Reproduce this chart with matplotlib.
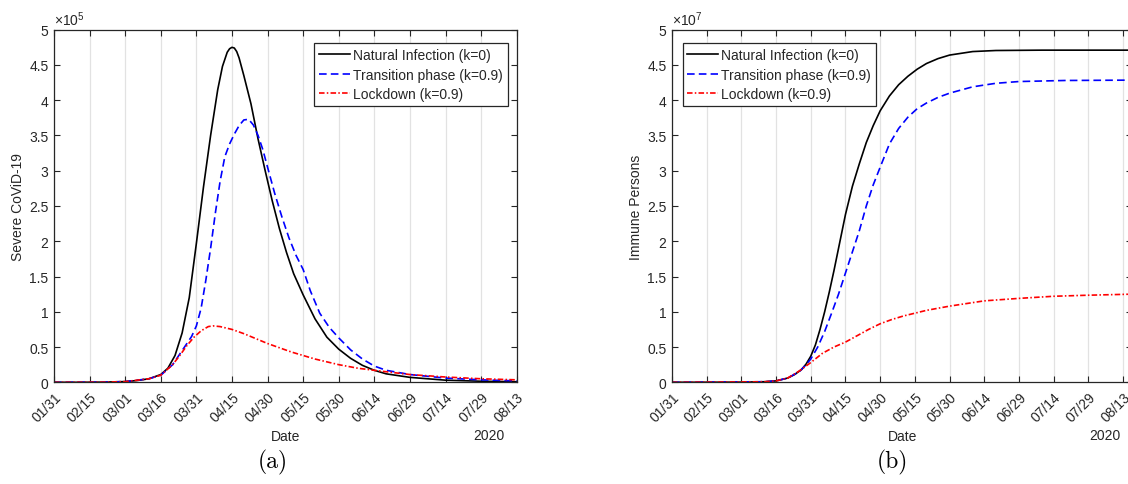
import numpy as np
import matplotlib
matplotlib.use("Agg")
import matplotlib.pyplot as plt

plt.rcParams['font.family'] = ['Liberation Sans', 'DejaVu Sans']
plt.rcParams['lines.scale_dashes'] = False
plt.rcParams['mathtext.fontset'] = 'custom'
plt.rcParams['mathtext.rm'] = 'Liberation Sans'
plt.rcParams['mathtext.it'] = 'Liberation Sans:italic'
plt.rcParams['mathtext.bf'] = 'Liberation Sans:bold'

# ---------------- data ----------------
tick_days = [0, 15, 30, 45, 60, 75, 90, 105, 120, 135, 150, 165, 180, 195]
tick_labels = ['01/31', '02/15', '03/01', '03/16', '03/31', '04/15', '04/30',
               '05/15', '05/30', '06/14', '06/29', '07/14', '07/29', '08/13']
ytick_vals = [0, 0.5, 1, 1.5, 2, 2.5, 3, 3.5, 4, 4.5, 5]

legend_labels = ['Natural Infection (k=0)', 'Transition phase (k=0.9)', 'Lockdown (k=0.9)']

# (a) Severe CoViD-19, units of 1e5
a_nat_days = [0, 10, 20, 30, 35, 40, 45, 48, 51, 54, 57, 60, 63, 66, 69, 71, 73, 74, 75, 76,
              77, 78, 80, 83, 86, 89, 92, 95, 98, 101, 105, 110, 115, 120, 125, 130, 135, 140,
              150, 165, 180, 195]
a_nat_vals = [0, 0, 0.002, 0.01, 0.025, 0.05, 0.11, 0.2, 0.38, 0.7, 1.2, 1.97, 2.77, 3.5,
              4.15, 4.48, 4.68, 4.73, 4.75, 4.74, 4.69, 4.6, 4.35, 3.95, 3.45, 3.0, 2.57, 2.18,
              1.84, 1.54, 1.24, 0.9, 0.64, 0.47, 0.34, 0.24, 0.17, 0.12, 0.07, 0.03, 0.015, 0.008]

a_tra_days = [0, 20, 30, 40, 45, 50, 55, 58, 60, 62, 64, 66, 68, 70, 72, 74, 76, 78, 80, 82,
              84, 86, 88, 90, 93, 96, 99, 102, 105, 108, 112, 116, 120, 125, 130, 135, 140,
              150, 165, 180, 195]
a_tra_vals = [0, 0.002, 0.01, 0.05, 0.1, 0.25, 0.5, 0.65, 0.8, 1.05, 1.45, 1.9, 2.4, 2.85,
              3.2, 3.38, 3.52, 3.64, 3.72, 3.73, 3.65, 3.5, 3.3, 3.05, 2.68, 2.35, 2.05, 1.8,
              1.6, 1.3, 0.98, 0.78, 0.63, 0.46, 0.33, 0.23, 0.17, 0.11, 0.06, 0.035, 0.02]

a_lock_days = [0, 20, 30, 40, 45, 50, 53, 56, 59, 62, 65, 67, 70, 75, 80, 85, 90, 95, 100,
               105, 110, 115, 120, 128, 135, 150, 165, 180, 195]
a_lock_vals = [0, 0.002, 0.01, 0.05, 0.1, 0.25, 0.38, 0.52, 0.64, 0.73, 0.79, 0.8, 0.79,
               0.75, 0.69, 0.62, 0.55, 0.49, 0.43, 0.38, 0.33, 0.29, 0.25, 0.2, 0.17, 0.11,
               0.075, 0.05, 0.035]

# (b) Immune persons, units of 1e7
b_nat_days = [0, 30, 40, 45, 50, 53, 56, 58, 60, 62, 64, 66, 68, 70, 72, 75, 78, 81, 84, 87,
              90, 94, 98, 102, 106, 110, 115, 120, 130, 140, 160, 199]
b_nat_vals = [0, 0.002, 0.008, 0.02, 0.06, 0.11, 0.18, 0.26, 0.37, 0.53, 0.75, 1.0, 1.28,
              1.58, 1.9, 2.38, 2.78, 3.1, 3.4, 3.64, 3.85, 4.06, 4.22, 4.34, 4.44, 4.52,
              4.59, 4.64, 4.69, 4.705, 4.71, 4.71]

b_tra_days = [0, 40, 45, 50, 55, 58, 60, 63, 66, 69, 72, 75, 78, 81, 84, 87, 90, 94, 98, 102,
              106, 110, 115, 120, 130, 140, 150, 170, 199]
b_tra_vals = [0, 0.008, 0.02, 0.06, 0.15, 0.25, 0.33, 0.5, 0.72, 0.98, 1.25, 1.55, 1.85,
              2.15, 2.5, 2.8, 3.05, 3.38, 3.6, 3.76, 3.88, 3.96, 4.04, 4.1, 4.19, 4.24, 4.265,
              4.28, 4.285]

b_lock_days = [0, 40, 45, 50, 55, 60, 65, 70, 75, 80, 85, 90, 95, 100, 105, 110, 120, 135,
               150, 165, 180, 199]
b_lock_vals = [0, 0.008, 0.02, 0.06, 0.16, 0.28, 0.41, 0.5, 0.57, 0.66, 0.75, 0.83, 0.89,
               0.94, 0.98, 1.02, 1.08, 1.155, 1.19, 1.22, 1.235, 1.25]

# ---------------- figure ----------------
W, H = 1128, 485
fig = plt.figure(figsize=(W / 100, H / 100), dpi=100)

ax_col = '#262626'
grid_col = '#e2e2e2'
fs = 10

def px_axes(l, r, t, b):
    return fig.add_axes([l / W, 1 - b / H, (r - l) / W, (b - t) / H])

ax1 = px_axes(54, 516.7, 30.7, 383.3)
ax2 = px_axes(672, 672 + 199 * 2.313, 30.7, 383.3)

def style(ax, xmax, ylab, expo):
    ax.set_xlim(0, xmax)
    ax.set_ylim(0, 5)
    ax.set_xticks(tick_days)
    ax.set_xticklabels(tick_labels, rotation=45, ha='right', va='top',
                       rotation_mode='anchor', fontsize=fs, color=ax_col)
    ax.set_yticks(ytick_vals)
    ax.set_yticklabels([('%g' % v) for v in ytick_vals], fontsize=fs, color=ax_col)
    ax.tick_params(direction='in', length=4, width=0.8, top=True, right=True,
                   color=ax_col, pad=4)
    ax.tick_params(axis='x', pad=5)
    ax.grid(axis='x', color=grid_col, lw=0.9)
    ax.set_axisbelow(True)
    for s in ax.spines.values():
        s.set_color(ax_col)
        s.set_linewidth(0.9)
    ax.set_xlabel('Date', fontsize=fs, color=ax_col, labelpad=4)
    ax.set_ylabel(ylab, fontsize=fs, color=ax_col, labelpad=3)
    ax.text(0.0, 1.006, r'$\times\mathregular{10^{%s}}$' % expo, transform=ax.transAxes,
            fontsize=fs, color=ax_col, ha='left', va='bottom')

def draw(ax, d1, v1, d2, v2, d3, v3):
    l1, = ax.plot(d1, v1, color='black', lw=1.2)
    l2, = ax.plot(d2, v2, color='#0000ff', lw=1.2, dashes=(5.5, 3))
    l3, = ax.plot(d3, v3, color='#ff0000', lw=1.2, dashes=(4, 1.6, 1.1, 1.6))
    return [l1, l2, l3]

h1 = draw(ax1, a_nat_days, a_nat_vals, a_tra_days, a_tra_vals, a_lock_days, a_lock_vals)
h2 = draw(ax2, b_nat_days, b_nat_vals, b_tra_days, b_tra_vals, b_lock_days, b_lock_vals)

style(ax1, 195, 'Severe CoViD-19', '5')
style(ax2, 199, 'Immune Persons', '7')

leg_kw = dict(fontsize=fs, frameon=True, fancybox=False, framealpha=1,
              edgecolor=ax_col, handlelength=2.2, handletextpad=0.25,
              labelspacing=0.38, borderpad=0.35, borderaxespad=0)
lg1 = ax1.legend(h1, legend_labels, loc='upper right', bbox_to_anchor=(0.981, 0.961), **leg_kw)
lg2 = ax2.legend(h2, legend_labels, loc='upper left', bbox_to_anchor=(0.023, 0.961), **leg_kw)
for lg in (lg1, lg2):
    lg.get_frame().set_linewidth(0.9)
    for t in lg.get_texts():
        t.set_color(ax_col)

# year labels
ax1.text(505 / W, 1 - 436 / H, '2020', transform=fig.transFigure, fontsize=fs,
         color=ax_col, ha='right', va='center')
ax2.text(1121 / W, 1 - 436 / H, '2020', transform=fig.transFigure, fontsize=fs,
         color=ax_col, ha='right', va='center')

# captions
fig.text(273 / W, 1 - 462 / H, '(a)', fontfamily='cmr10', fontsize=17,
         ha='center', va='center', color='black')
fig.text(892 / W, 1 - 462 / H, '(b)', fontfamily='cmr10', fontsize=17,
         ha='center', va='center', color='black')

fig.savefig('out.png', dpi=100)
